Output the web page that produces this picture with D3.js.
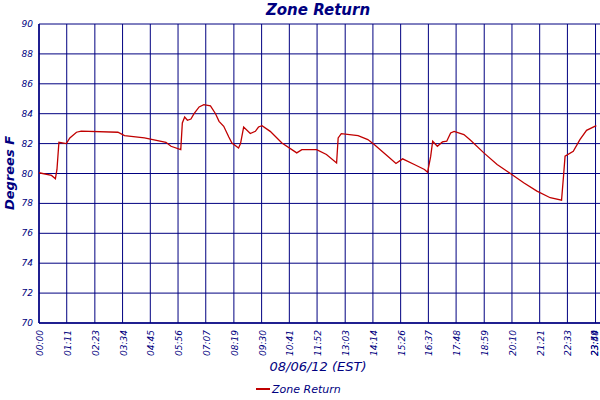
<!DOCTYPE html>
<html><head><meta charset="utf-8">
<script src="https://cdn.jsdelivr.net/npm/d3@7"></script>
<style>body{margin:0;background:#fff}text{font-family:"DejaVu Sans",Verdana,sans-serif;fill:#000080}</style>
</head><body><svg id="c" width="600" height="400"></svg>
<script>
const minutes=[0,32,42,46,51,70,79,96,108,202,219,270,325,338,363,367,373,380,389,397,410,422,439,452,461,473,486,494,511,516,524,541,554,562,571,592,622,660,673,711,736,762,766,774,817,842,859,893,914,931,961,987,995,1003,1008,1020,1033,1044,1054,1063,1088,1105,1139,1173,1207,1241,1275,1309,1338,1343,1347,1368,1385,1402,1427];
const temps=[80.05,79.87,79.65,80.27,82.09,82.0,82.38,82.76,82.84,82.76,82.53,82.38,82.09,81.82,81.6,83.38,83.78,83.56,83.64,84.0,84.45,84.6,84.53,84.0,83.49,83.16,82.44,82.04,81.71,82.0,83.11,82.67,82.82,83.11,83.2,82.82,82.04,81.38,81.6,81.6,81.27,80.71,82.38,82.67,82.53,82.27,81.93,81.16,80.67,80.98,80.6,80.27,80.09,81.16,82.16,81.82,82.11,82.16,82.71,82.82,82.6,82.22,81.38,80.6,80.0,79.38,78.82,78.38,78.22,79.82,81.16,81.49,82.27,82.89,83.2];
const tickMinutes=[0,71,143,214,285,356,427,499,570,641,712,784,855,926,997,1068,1140,1211,1282,1353,1425,1439];
const tickLabels=["00:00","01:11","02:23","03:34","04:45","05:56","07:07","08:19","09:30","10:41","11:52","13:03","14:14","15:26","16:37","17:48","18:59","20:10","21:21","22:33","23:44","23:59"];
const yTicks=[70,72,74,76,78,80,82,84,86,88,90];

const svg=d3.select("#c");
const x=d3.scaleLinear().domain([0,1439]).range([39,601]);
const y=d3.scaleLinear().domain([70,90]).range([323,24]);
const g=svg.append("g");
g.selectAll(".vg").data(tickMinutes).join("line").attr("x1",d=>x(d)).attr("x2",d=>x(d)).attr("y1",24).attr("y2",323).attr("stroke","#000080").attr("stroke-width",1);
g.selectAll(".hg").data(yTicks).join("line").attr("x1",39).attr("x2",600).attr("y1",d=>y(d)).attr("y2",d=>y(d)).attr("stroke","#000080").attr("stroke-width",1);
g.append("line").attr("x1",39).attr("x2",39).attr("y1",24).attr("y2",323).attr("stroke","#000080").attr("stroke-width",1.5);
g.append("line").attr("x1",39).attr("x2",600).attr("y1",323).attr("y2",323).attr("stroke","#000080").attr("stroke-width",1.5);
svg.selectAll(".yl").data(yTicks).join("text").attr("x",33).attr("y",d=>y(d)+3).attr("text-anchor","end").attr("font-size",9).attr("font-style","italic").text(d=>d);
svg.selectAll(".xl").data(tickMinutes).join("text").attr("transform",(d,i)=>`translate(${Math.min(x(d)+4,598)},${330}) rotate(-90)`).attr("text-anchor","end").attr("font-size",9).attr("font-style","italic").text((d,i)=>tickLabels[i]);
const line=d3.line().x((d,i)=>x(minutes[i])).y(d=>y(d));
svg.append("path").datum(temps).attr("d",line).attr("fill","none").attr("stroke","#c00000").attr("stroke-width",1.3);
svg.append("text").attr("x",318).attr("y",15).attr("text-anchor","middle").attr("font-size",15).attr("font-weight","bold").attr("font-style","italic").text("Zone Return");
svg.append("text").attr("x",318).attr("y",371).attr("text-anchor","middle").attr("font-size",13).attr("font-style","italic").text("08/06/12 (EST)");
svg.append("text").attr("transform","translate(14,173) rotate(-90)").attr("text-anchor","middle").attr("font-size",13).attr("font-weight","bold").attr("font-style","italic").text("Degrees F");
svg.append("line").attr("x1",256).attr("x2",270).attr("y1",389).attr("y2",389).attr("stroke","#c00000").attr("stroke-width",2);
svg.append("text").attr("x",272).attr("y",393).attr("font-size",11).attr("font-style","italic").text("Zone Return");
</script></body></html>
